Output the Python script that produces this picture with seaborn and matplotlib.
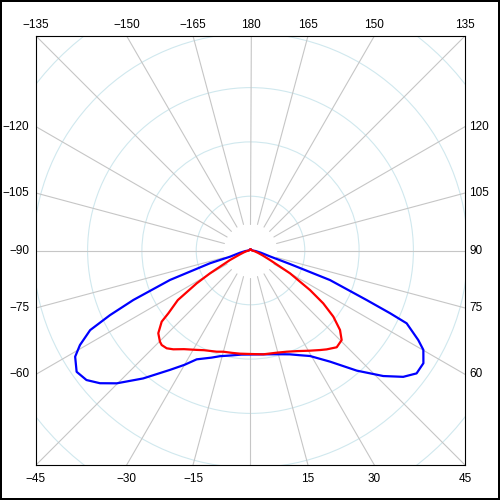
import numpy as np
import pandas as pd
import seaborn as sns
import matplotlib.pyplot as plt

# =============================
# Data (angle in degrees from nadir, intensity in chart units)
# =============================
blue_angle = [-180, -90, -84, -78, -73.2, -72.5, -69.9, -67.1, -65.3, -63.6, -61, -58.8,
              -55.1, -51.7, -48.6, -45.2, -40, -34, -30, -26.3, -20, -16.1, -10, -5,
              0, 5, 10, 15, 20.8, 25, 29.4, 35.6, 41.5, 46.6, 50.4, 53.5, 56.9, 60.1,
              61.9, 65, 65.8, 66.9, 69.6, 71.1, 73, 78, 84, 90, 180]
blue_value = [1.2, 2, 5, 10.7, 21.4, 42.5, 85.7, 127.2, 154.6, 179, 195, 205,
              212, 209, 200.7, 188.5, 167, 144, 132, 121.4, 114, 110, 106.5, 104.5,
              104, 104.3, 105.4, 107.4, 111.1, 115.5, 121.1, 136.7, 160.4, 182.7, 198.2, 206.6, 206.4, 199.4,
              190.2, 172.3, 153, 126.3, 84.8, 41.7, 21, 10.5, 5, 2, 1.2]

red_angle = [-180, -90, -85, -80, -75, -70, -65.1, -60.6, -58.6, -55.7, -52.6, -51.3,
             -48.1, -44.8, -43.2, -40.6, -38, -34, -28.4, -25, -18.5, -15, -10, -5.8,
             0, 7, 14.4, 19.7, 25, 30.7, 35, 37.6, 41.7, 45.5, 48.4, 51.4, 54, 56.4,
             60, 64, 68, 73, 80, 85, 90, 180]
red_value = [1.2, 1.5, 2.5, 4, 6.5, 11, 22.6, 46.5, 63, 88, 103.4, 113.8,
             123.9, 128.5, 129.7, 128.8, 125.4, 119, 113, 110, 106.7, 104.8, 104, 103.7,
             103.5, 104.6, 105.5, 107.5, 111, 116.5, 121.5, 124.8, 129.6, 127.8, 119.7, 106, 89.9, 71.4,
             45.6, 21.7, 13, 7.5, 4, 2.5, 1.5, 1.2]

grid_angles = list(range(-165, 181, 15))
ring_radii = [54.3, 108.6, 162.9, 217.2, 271.5]

# =============================
# Style
# =============================
sns.set_style("white")
plt.rcParams['font.family'] = ['Liberation Sans', 'DejaVu Sans']
plt.rcParams['text.color'] = 'black'

HALF = 214.5
RADIAL_COLOR = "#c6c6c6"
RING_COLOR = "#d0e8ee"

fig = plt.figure(figsize=(5, 5), dpi=100)
fig.patch.set_facecolor("white")
fig.patch.set_edgecolor("black")
fig.patch.set_linewidth(1.5)

ax = fig.add_axes([0.072, 0.070, 0.858, 0.858])
ax.set_xlim(-HALF, HALF)
ax.set_ylim(-HALF, HALF)

# rings
for r in ring_radii:
    ax.add_patch(plt.Circle((0, 0), r, fill=False, ec=RING_COLOR, lw=0.8, zorder=1))

# radial lines
for a in grid_angles:
    t = np.radians(a)
    s, c = np.sin(t), np.cos(t)
    ax.plot([27 * s, 400 * s], [-27 * c, -400 * c], color=RADIAL_COLOR, lw=0.8, zorder=1)

# =============================
# Curves
# =============================
def to_xy(angles, values, name):
    t = np.radians(np.array(angles, dtype=float))
    v = np.array(values, dtype=float)
    return pd.DataFrame({"x": v * np.sin(t), "y": -v * np.cos(t), "series": name})

df = pd.concat([to_xy(blue_angle, blue_value, "C0-180"),
                to_xy(red_angle, red_value, "C90-270")], ignore_index=True)

sns.lineplot(data=df, x="x", y="y", hue="series", sort=False, estimator=None,
             palette={"C0-180": "#0000ff", "C90-270": "#ff0000"},
             lw=1.6, legend=False, ax=ax, zorder=3)

# =============================
# Angle labels on the box edge
# =============================
def fmt(a):
    if a == 180:
        return "180"
    return ("\u2212" + str(abs(a))) if a < 0 else str(a)

for a in grid_angles:
    if a == 0:
        continue
    t = np.radians(a)
    x, y = np.sin(t), -np.cos(t)
    kw = dict(fontsize=8.5, color="black", clip_on=False, va="center")
    if y >= abs(x) - 1e-9:
        ax.text(HALF * x / y, 225.5, fmt(a), ha="center", **kw)
    elif -y >= abs(x) - 1e-9:
        ax.text(HALF * x / -y, -228, fmt(a), ha="center", **kw)
    elif x > 0:
        ax.text(219, HALF * y / x, fmt(a), ha="left", **kw)
    else:
        ax.text(-221, HALF * y / -x, fmt(a), ha="right", **kw)

ax.set_xticks([])
ax.set_yticks([])
ax.set_xlabel("")
ax.set_ylabel("")
for sp in ax.spines.values():
    sp.set_color("black")
    sp.set_linewidth(0.8)
    sp.set_visible(True)

fig.savefig("out.png", dpi=100)
